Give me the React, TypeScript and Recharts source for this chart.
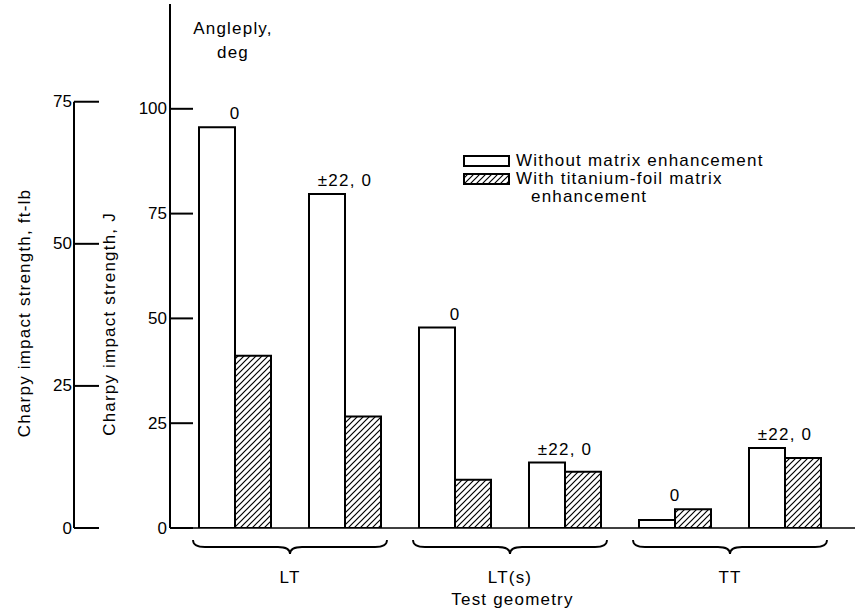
import React from "react";
import { BarChart, Bar, XAxis, YAxis, Legend, LabelList } from "recharts";

// ---------------------------------------------------------------------------
// Data (Charpy impact strength, J)
// ---------------------------------------------------------------------------

const categories = ["LT-0", "LT-22", "LTs-0", "LTs-22", "TT-0", "TT-22"];
const geometry = ["LT", "LT", "LT(s)", "LT(s)", "TT", "TT"];
const angleply = ["0", "±22, 0", "0", "±22, 0", "0", "±22, 0"];
const withoutEnhancement = [95.6, 79.7, 47.8, 15.6, 1.9, 19.1];
const withTitaniumFoil = [41.1, 26.6, 11.5, 13.4, 4.5, 16.7];

const jTicks = [0, 25, 50, 75, 100];
const ftLbTicks = [0, 25, 50, 75];

// ---------------------------------------------------------------------------
// Layout
// ---------------------------------------------------------------------------

const W = 861;
const H = 610;
const MARGIN = { top: 4, right: 6, bottom: 80, left: 0 };
const AXIS_H = 1;
const PLOT_H = H - MARGIN.top - MARGIN.bottom - 2 * AXIS_H;
const J_MAX = 125;
const J_PER_FTLB = 1.35582;
const FT_MAX = J_MAX / J_PER_FTLB;
const FONT = '"Liberation Sans", Arial, sans-serif';
const FS = 17;
const SPACING = 1.2;

const data = categories.map((key, i) => ({
  key,
  geometry: geometry[i],
  angleply: angleply[i],
  without: withoutEnhancement[i],
  withTi: withTitaniumFoil[i],
}));

// ---------------------------------------------------------------------------
// Axis pieces
// ---------------------------------------------------------------------------

function JTick({ x, y, payload }: any) {
  return (
    <g>
      <line x1={x} x2={x + 23} y1={y} y2={y} stroke="#000" strokeWidth={2} />
      <text
        x={x - 3}
        y={y}
        textAnchor="end"
        dominantBaseline="central"
        fontSize={FS}
        fontFamily={FONT}
        fill="#000"
      >
        {payload.value}
      </text>
    </g>
  );
}

function FtLbTick({ x, y, payload }: any) {
  const top = ftLbTicks[ftLbTicks.length - 1];
  return (
    <g>
      <line x1={x} x2={x + 25} y1={y} y2={y} stroke="#000" strokeWidth={2} />
      {payload.value === 0 && (
        <line
          x1={x}
          x2={x}
          y1={y}
          y2={y - (top / FT_MAX) * PLOT_H}
          stroke="#000"
          strokeWidth={2}
        />
      )}
      <text
        x={x - 2}
        y={y}
        textAnchor="end"
        dominantBaseline="central"
        fontSize={FS}
        fontFamily={FONT}
        fill="#000"
      >
        {payload.value}
      </text>
    </g>
  );
}

function GeometryTick({ x, payload }: any) {
  const base = 528;
  const half = 97;
  const top = base + 12;
  const mid = base + 19;
  const tip = base + 26;
  const d =
    `M${x - half},${top} Q${x - half},${mid} ${x - half + 12},${mid} ` +
    `L${x - 12},${mid} Q${x},${mid} ${x},${tip} Q${x},${mid} ${x + 12},${mid} ` +
    `L${x + half - 12},${mid} Q${x + half},${mid} ${x + half},${top}`;
  return (
    <g>
      <path d={d} fill="none" stroke="#000" strokeWidth={1.8} />
      <text
        x={x}
        y={base + 49}
        textAnchor="middle"
        dominantBaseline="central"
        fontSize={FS}
        fontFamily={FONT}
        letterSpacing={SPACING}
        fill="#000"
      >
        {payload.value}
      </text>
    </g>
  );
}

function AxisTitle({ viewBox, text, dx, cy }: any) {
  const x = viewBox.x + dx;
  return (
    <text
      x={x}
      y={cy}
      transform={`rotate(-90, ${x}, ${cy})`}
      textAnchor="middle"
      dominantBaseline="central"
      fontSize={FS}
      fontFamily={FONT}
      letterSpacing={SPACING}
      fill="#000"
    >
      {text}
    </text>
  );
}

function XTitle({ viewBox }: any) {
  return (
    <text
      x={viewBox.x + viewBox.width / 2}
      y={599}
      textAnchor="middle"
      dominantBaseline="central"
      fontSize={FS}
      fontFamily={FONT}
      letterSpacing={SPACING}
      fill="#000"
    >
      Test geometry
    </text>
  );
}

// Angleply label sits over the taller bar of each pair, at the shared edge
const angleLabel = (series: "without" | "withTi") => (props: any) => {
  const { x, y, width, index } = props;
  const d = data[index];
  const taller = d.without >= d.withTi ? "without" : "withTi";
  if (taller !== series) return null;
  const cx = series === "without" ? x + width : x;
  return (
    <text
      x={cx}
      y={y - 8}
      textAnchor="middle"
      fontSize={FS}
      fontFamily={FONT}
      letterSpacing={SPACING}
      fill="#000"
    >
      {d.angleply}
    </text>
  );
};

function Notes() {
  const text: React.CSSProperties = {
    fontFamily: FONT,
    fontSize: FS,
    letterSpacing: SPACING,
    color: "#000",
    position: "absolute",
    whiteSpace: "nowrap",
    lineHeight: "20px",
  };
  const box: React.CSSProperties = {
    position: "absolute",
    left: 463,
    width: 47,
    height: 12,
  };
  return (
    <div style={{ position: "relative", width: W, height: H }}>
      <div style={{ ...text, left: 183, top: 17, width: 100, textAlign: "center", lineHeight: "24px" }}>
        Angleply,
        <br />
        deg
      </div>
      <svg style={{ ...box, top: 155 }} width={47} height={12}>
        <rect x={1} y={1} width={45} height={10} fill="#fff" stroke="#000" strokeWidth={2} />
      </svg>
      <div style={{ ...text, left: 516, top: 151 }}>Without matrix enhancement</div>
      <svg style={{ ...box, top: 173 }} width={47} height={12}>
        <rect x={1} y={1} width={45} height={10} fill="url(#hatch)" stroke="#000" strokeWidth={2} />
      </svg>
      <div style={{ ...text, left: 516, top: 169 }}>With titanium-foil matrix</div>
      <div style={{ ...text, left: 531, top: 187 }}>enhancement</div>
    </div>
  );
}

// ---------------------------------------------------------------------------
// Chart
// ---------------------------------------------------------------------------

export default function App() {
  return (
    <div style={{ position: "absolute", left: 0, top: 0, width: W, height: H, background: "#fff" }}>
      <BarChart width={W} height={H} data={data} margin={MARGIN} barSize={36} barGap={0}>
        <defs>
          <pattern id="hatch" patternUnits="userSpaceOnUse" width={6} height={6}>
            <path d="M-1,1 l2,-2 M0,6 l6,-6 M5,7 l2,-2" stroke="#000" strokeWidth={1.2} />
          </pattern>
        </defs>

        <XAxis
          dataKey="key"
          height={AXIS_H}
          tick={false}
          tickLine={false}
          axisLine={{ stroke: "#000", strokeWidth: 1.6 }}
          padding={{ left: 10, right: 15 }}
        />
        <XAxis
          xAxisId="geo"
          dataKey="geometry"
          allowDuplicatedCategory={false}
          height={AXIS_H}
          axisLine={false}
          tickLine={false}
          tickSize={0}
          tickMargin={0}
          padding={{ left: 10, right: 15 }}
          tick={<GeometryTick />}
          interval={0}
          label={<XTitle />}
        />

        <YAxis
          yAxisId="energyJ"
          width={96}
          domain={[0, J_MAX]}
          ticks={jTicks}
          interval={0}
          allowDataOverflow
          axisLine={{ stroke: "#000", strokeWidth: 2 }}
          tickLine={false}
          tickSize={0}
          tickMargin={0}
          tick={<JTick />}
          label={<AxisTitle text="Charpy impact strength, J" dx={35} cy={324} />}
        />
        <YAxis
          yAxisId="ftlb"
          width={74}
          domain={[0, FT_MAX]}
          ticks={ftLbTicks}
          interval={0}
          allowDataOverflow
          axisLine={false}
          tickLine={false}
          tickSize={0}
          tickMargin={0}
          tick={<FtLbTick />}
          label={<AxisTitle text="Charpy impact strength, ft-lb" dx={24} cy={313} />}
        />

        <Legend
          layout="vertical"
          verticalAlign="middle"
          align="center"
          wrapperStyle={{ left: 0, top: 0, width: W, height: H, pointerEvents: "none" }}
          content={() => <Notes />}
        />

        <Bar
          yAxisId="energyJ"
          dataKey="without"
          name="Without matrix enhancement"
          fill="#fff"
          stroke="#000"
          strokeWidth={2}
          isAnimationActive={false}
        >
          <LabelList dataKey="angleply" content={angleLabel("without")} />
        </Bar>
        <Bar
          yAxisId="energyJ"
          dataKey="withTi"
          name="With titanium-foil matrix enhancement"
          fill="url(#hatch)"
          stroke="#000"
          strokeWidth={2}
          isAnimationActive={false}
        >
          <LabelList dataKey="angleply" content={angleLabel("withTi")} />
        </Bar>
      </BarChart>
    </div>
  );
}
